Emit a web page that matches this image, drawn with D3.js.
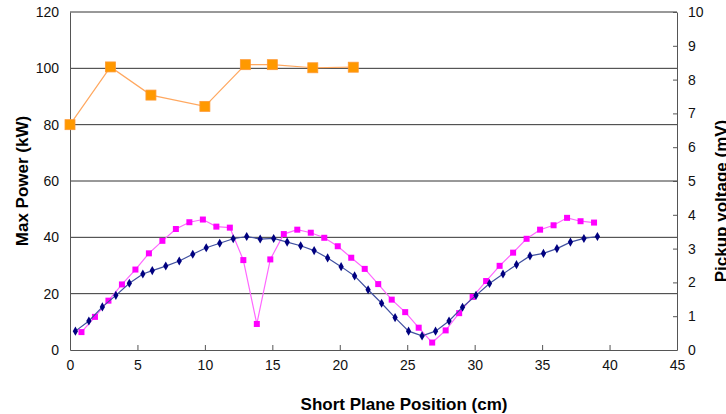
<!DOCTYPE html>
<html>
<head>
<meta charset="utf-8">
<script src="https://cdn.jsdelivr.net/npm/d3@7"></script>
<style>
  body { margin: 0; background: #fff; }
  svg { display: block; font-family: "Liberation Sans", Arial, sans-serif; }
  .tick text { font-size: 14px; fill: #111; }
  .axis-title { font-size: 17px; font-weight: bold; fill: #000; }
</style>
</head>
<body>
<div id="chart"></div>
<script>
// Orange series (Max Power, kW)
const powerPos = [0, 3, 6, 10, 13, 15, 18, 21];
const powerKW = [80, 100.5, 90.5, 86.5, 101.3, 101.3, 100.2, 100.4];

// Navy series (left axis, kW)
const navyPos = [0.4, 1.4, 2.4, 3.4, 4.4, 5.4, 6.1, 7.1, 8.1, 9.1, 10.1, 11.1, 12.1, 13.1, 14.1,
  15.1, 16.1, 17.1, 18.1, 19.1, 20.1, 21.1, 22.1, 23.1, 24.1, 25.1, 26.1, 27.1, 28.1, 29.1,
  30.1, 31.1, 32.1, 33.1, 34.1, 35.1, 36.1, 37.1, 38.1, 39.1];
const navyKW = [6.7, 10.3, 15.3, 19.4, 23.7, 27.0, 28.2, 29.8, 31.6, 34.0, 36.3, 37.9, 39.5, 40.3, 39.4,
  39.6, 38.3, 37.0, 35.3, 32.7, 29.6, 26.3, 21.4, 16.6, 11.5, 6.7, 5.0, 6.7, 10.3, 15.2,
  19.4, 23.6, 27.0, 30.3, 33.4, 34.3, 36.0, 38.3, 39.6, 40.3];

// Magenta series (Pickup voltage, mV, right axis)
const pickupPos = [0.85, 1.85, 2.85, 3.85, 4.85, 5.85, 6.85, 7.85, 8.85, 9.85, 10.85, 11.85, 12.85,
  13.85, 14.85, 15.85, 16.85, 17.85, 18.85, 19.85, 20.85, 21.85, 22.85, 23.85, 24.85, 25.85,
  26.85, 27.85, 28.85, 29.85, 30.85, 31.85, 32.85, 33.85, 34.85, 35.85, 36.85, 37.85, 38.85];
const pickupMV = [0.53, 0.98, 1.46, 1.94, 2.38, 2.86, 3.23, 3.58, 3.78, 3.86, 3.65, 3.62, 2.66,
  0.77, 2.68, 3.43, 3.56, 3.47, 3.32, 3.07, 2.73, 2.40, 1.95, 1.49, 1.12, 0.66,
  0.22, 0.58, 1.09, 1.57, 2.04, 2.49, 2.88, 3.29, 3.56, 3.69, 3.91, 3.81, 3.77];

const xTicks = [0, 5, 10, 15, 20, 25, 30, 35, 40, 45];
const leftTicks = [0, 20, 40, 60, 80, 100, 120];
const rightTicks = [0, 1, 2, 3, 4, 5, 6, 7, 8, 9, 10];

const width = 726;
const height = 414;
const margin = { top: 12, right: 49, bottom: 64, left: 70 };
const innerW = width - margin.left - margin.right;
const innerH = height - margin.top - margin.bottom;

const svg = d3.select('#chart').append('svg')
  .attr('width', width)
  .attr('height', height);

const g = svg.append('g')
  .attr('transform', `translate(${margin.left},${margin.top})`);

const x = d3.scaleLinear().domain([0, 45]).range([0, innerW]);
const yL = d3.scaleLinear().domain([0, 120]).range([innerH, 0]);
const yR = d3.scaleLinear().domain([0, 10]).range([innerH, 0]);

// gridlines
g.append('g')
  .selectAll('line')
  .data(leftTicks.filter(d => d > 0))
  .join('line')
  .attr('x1', 0)
  .attr('x2', innerW)
  .attr('y1', d => yL(d))
  .attr('y2', d => yL(d))
  .attr('stroke', '#333')
  .attr('stroke-width', 1);

// axes
const xAxis = g.append('g')
  .attr('transform', `translate(0,${innerH})`)
  .call(d3.axisBottom(x).tickValues(xTicks).tickSizeInner(-5).tickSizeOuter(0).tickPadding(10));

const leftAxis = g.append('g')
  .call(d3.axisLeft(yL).tickValues(leftTicks).tickSize(0).tickPadding(11));

const rightAxis = g.append('g')
  .attr('transform', `translate(${innerW},0)`)
  .call(d3.axisRight(yR).tickValues(rightTicks).tickSizeInner(-4).tickSizeOuter(0).tickPadding(11));

[xAxis, leftAxis, rightAxis].forEach(a => {
  a.select('.domain').attr('stroke', '#555');
  a.selectAll('.tick line').attr('stroke', '#555');
});

// orange series
const powerData = powerPos.map((p, i) => ({ x: p, y: powerKW[i] }));
g.append('path')
  .datum(powerData)
  .attr('fill', 'none')
  .attr('stroke', '#FFA860')
  .attr('stroke-width', 1.2)
  .attr('d', d3.line().x(d => x(d.x)).y(d => yL(d.y)));

g.append('g')
  .selectAll('rect')
  .data(powerData)
  .join('rect')
  .attr('x', d => x(d.x) - 5)
  .attr('y', d => yL(d.y) - 5)
  .attr('width', 10)
  .attr('height', 10)
  .attr('fill', '#FF9900')
  .attr('stroke', '#FF9933')
  .attr('stroke-width', 0.8);

// magenta series
const pickupData = pickupPos.map((p, i) => ({ x: p, y: pickupMV[i] }));
g.append('path')
  .datum(pickupData)
  .attr('fill', 'none')
  .attr('stroke', '#FF66FF')
  .attr('stroke-width', 1.2)
  .attr('d', d3.line().x(d => x(d.x)).y(d => yR(d.y)));

g.append('g')
  .selectAll('rect')
  .data(pickupData)
  .join('rect')
  .attr('x', d => x(d.x) - 3)
  .attr('y', d => yR(d.y) - 3)
  .attr('width', 6)
  .attr('height', 6)
  .attr('fill', '#FF00FF');

// navy series
const navyData = navyPos.map((p, i) => ({ x: p, y: navyKW[i] }));
g.append('path')
  .datum(navyData)
  .attr('fill', 'none')
  .attr('stroke', '#4050A0')
  .attr('stroke-width', 1.2)
  .attr('d', d3.line().x(d => x(d.x)).y(d => yL(d.y)));

g.append('g')
  .selectAll('path')
  .data(navyData)
  .join('path')
  .attr('transform', d => `translate(${x(d.x)},${yL(d.y)})`)
  .attr('d', d3.symbol(d3.symbolDiamond, 24))
  .attr('fill', '#000080');

// axis titles
svg.append('text')
  .attr('class', 'axis-title')
  .attr('text-anchor', 'middle')
  .attr('transform', `translate(28,181) rotate(-90)`)
  .text('Max Power (kW)');

svg.append('text')
  .attr('class', 'axis-title')
  .attr('text-anchor', 'middle')
  .attr('transform', `translate(727,201) rotate(-90)`)
  .text('Pickup voltage (mV)');

svg.append('text')
  .attr('class', 'axis-title')
  .attr('text-anchor', 'middle')
  .attr('x', 404)
  .attr('y', 410)
  .text('Short Plane Position (cm)');
</script>
</body>
</html>
